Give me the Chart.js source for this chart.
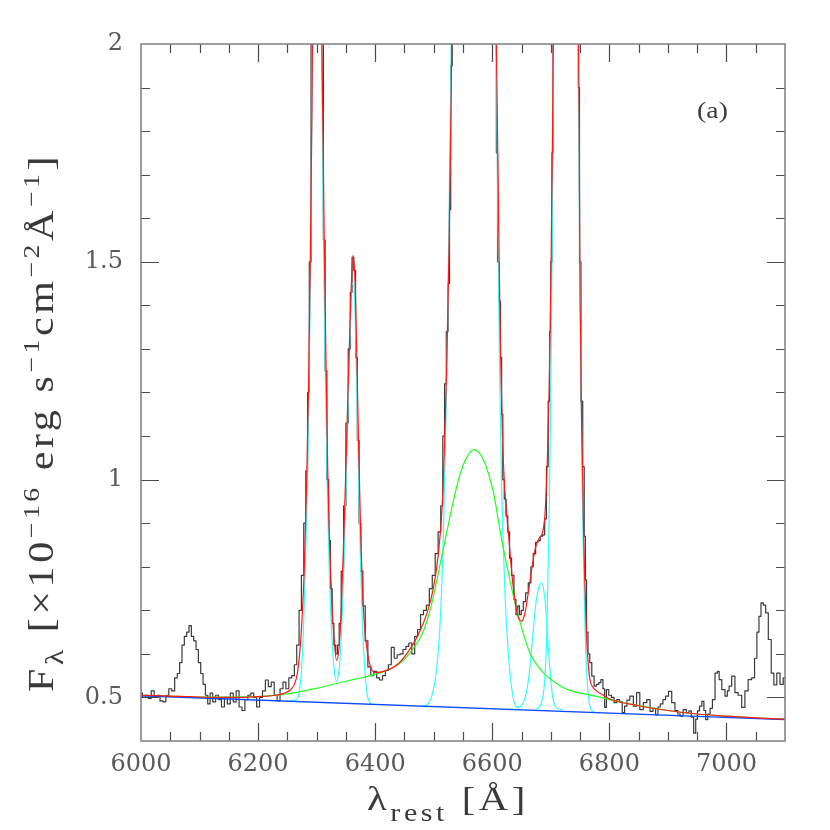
<!DOCTYPE html>
<html><head><meta charset="utf-8">
<script src="https://cdn.jsdelivr.net/npm/chart.js@4.4.0/dist/chart.umd.min.js"></script>
<style>html,body{margin:0;padding:0;background:#fff}#wrap{width:830px;height:830px}</style>
</head><body><div id="wrap"><canvas id="c" width="830" height="830"></canvas></div>
<script>
// ---------- DATA ----------
const obsWave = [6000,6005,6010,6015,6020,6025,6030,6035,6040,6045,6050,6055,6060,6064,6068,6072,6076,6080,6084,6088,6092,6096,6100,6104,6108,6112,6116,6120,6125,6130,6135,6140,6145,6150,6155,6160,6165,6170,6175,6180,6185,6190,6195,6200,6205,6210,6215,6220,6225,6230,6235,6240,6245,6250,6255,6260,6264,6268,6272,6276,6280,6283,6286,6289,6292,6300,6310,6313,6316,6319,6322,6325,6328,6331,6334,6337,6340,6344,6348,6352,6356,6359,6362,6365,6368,6371,6374,6377,6381,6385,6390,6395,6400,6405,6410,6415,6420,6425,6430,6435,6440,6445,6450,6455,6460,6465,6470,6475,6480,6485,6490,6495,6500,6505,6510,6514,6517,6520,6523,6526,6528,6530,6533,6570,6606,6608,6610,6613,6615,6617,6619,6622,6625,6628,6631,6635,6639,6642,6645,6648,6651,6655,6659,6664,6668,6672,6676,6680,6684,6688,6691,6694,6697,6699,6701,6703,6705,6725,6746,6748,6750,6753,6756,6758,6760,6762,6765,6768,6772,6776,6780,6784,6787,6791,6793,6797,6801,6806,6810,6815,6820,6824,6828,6832,6838,6844,6849,6855,6861,6867,6872,6877,6881,6885,6889,6894,6898,6904,6909,6915,6919,6923,6929,6934,6938,6942,6946,6949,6952,6956,6960,6963,6966,6970,6974,6978,6983,6986,6989,6995,7000,7003,7006,7012,7017,7023,7029,7034,7040,7046,7050,7054,7057,7061,7065,7069,7074,7079,7083,7089,7094,7100];
const obsFlux = [0.510,0.500,0.505,0.498,0.515,0.500,0.505,0.492,0.490,0.505,0.520,0.515,0.545,0.555,0.580,0.620,0.640,0.650,0.665,0.640,0.630,0.610,0.580,0.555,0.530,0.505,0.485,0.510,0.490,0.505,0.495,0.478,0.500,0.485,0.510,0.490,0.515,0.478,0.470,0.495,0.505,0.510,0.500,0.478,0.500,0.515,0.540,0.525,0.535,0.505,0.492,0.520,0.535,0.520,0.545,0.550,0.575,0.620,0.700,0.780,0.900,1.020,1.200,1.500,2.100,3.300,2.100,1.550,1.250,1.000,0.860,0.750,0.670,0.620,0.600,0.620,0.670,0.790,0.940,1.130,1.300,1.430,1.510,1.480,1.280,1.090,0.900,0.790,0.710,0.630,0.570,0.550,0.560,0.545,0.540,0.550,0.562,0.575,0.615,0.590,0.598,0.600,0.610,0.617,0.625,0.600,0.640,0.656,0.690,0.700,0.712,0.750,0.780,0.830,0.880,0.940,1.100,1.220,1.340,1.450,1.620,1.950,2.400,3.600,2.300,1.750,1.500,1.410,1.280,1.150,1.000,0.955,0.917,0.880,0.820,0.780,0.725,0.690,0.710,0.690,0.700,0.720,0.740,0.763,0.800,0.830,0.856,0.860,0.870,0.873,0.910,1.030,1.180,1.340,1.500,1.750,2.200,3.400,2.300,1.900,1.500,1.180,1.030,0.870,0.770,0.650,0.600,0.580,0.549,0.526,0.530,0.534,0.541,0.520,0.477,0.518,0.505,0.500,0.488,0.495,0.490,0.465,0.480,0.494,0.503,0.480,0.511,0.472,0.488,0.495,0.468,0.475,0.460,0.478,0.485,0.495,0.503,0.514,0.488,0.470,0.462,0.457,0.472,0.465,0.469,0.455,0.418,0.450,0.469,0.480,0.491,0.470,0.449,0.462,0.475,0.495,0.556,0.560,0.541,0.518,0.503,0.515,0.526,0.549,0.511,0.505,0.477,0.515,0.541,0.545,0.590,0.650,0.686,0.717,0.712,0.694,0.633,0.556,0.529,0.556,0.530,0.545];

const fitWave = [6000,6050,6100,6150,6200,6230,6245,6255,6262,6267,6271,6275,6279,6283,6286,6289,6292,6295,6300,6305,6309,6313,6316,6319,6322,6326,6330,6334,6338,6342,6346,6350,6354,6358,6362,6366,6369,6372,6375,6378,6382,6386,6390,6395,6400,6420,6440,6460,6475,6490,6500,6508,6514,6518,6522,6526,6530,6534,6570,6603,6607,6611,6614,6617,6620,6624,6628,6633,6638,6643,6650,6656,6662,6668,6674,6680,6686,6690,6694,6697,6700,6703,6706,6725,6745,6748,6750,6753,6756,6758,6761,6764,6767,6771,6778,6790,6800,6850,6900,6950,7000,7050,7100];
const fitFlux = [0.505,0.503,0.501,0.500,0.502,0.505,0.510,0.517,0.530,0.555,0.600,0.680,0.800,1.000,1.200,1.480,1.850,2.400,3.200,2.600,2.000,1.550,1.270,1.020,0.860,0.720,0.630,0.585,0.610,0.700,0.850,1.030,1.220,1.400,1.515,1.440,1.260,1.060,0.890,0.760,0.660,0.610,0.580,0.562,0.557,0.562,0.578,0.612,0.648,0.700,0.755,0.830,0.930,1.060,1.250,1.520,1.900,2.400,3.500,2.500,2.000,1.580,1.300,1.120,1.010,0.930,0.870,0.790,0.730,0.690,0.675,0.695,0.745,0.800,0.845,0.865,0.880,0.920,1.040,1.200,1.450,1.800,2.300,3.300,2.400,1.900,1.420,1.100,0.880,0.770,0.640,0.575,0.540,0.525,0.515,0.505,0.497,0.481,0.470,0.462,0.457,0.453,0.450];

const broadWave = [6000,6100,6200,6250,6300,6334,6370,6400,6420,6440,6460,6470,6480,6490,6500,6510,6522,6535,6545,6556,6569,6585,6602,6616,6630,6644,6664,6680,6693,6710,6727,6750,6780,6800,6850,6900,6950,7000,7050,7100];
const broadFlux = [0.505,0.501,0.502,0.508,0.521,0.532,0.543,0.553,0.562,0.576,0.603,0.622,0.645,0.683,0.735,0.800,0.878,0.960,1.012,1.050,1.069,1.045,0.970,0.863,0.770,0.690,0.603,0.568,0.549,0.532,0.519,0.510,0.502,0.495,0.481,0.470,0.462,0.457,0.453,0.450];

const contWave = [6000,7100];
const contFlux = [0.504,0.449];

const oiWave = [6255,6265,6270,6275,6279,6283,6286,6289,6292,6295,6300,6305,6309,6313,6316,6319,6322,6326,6330,6334,6338,6341,6345,6349,6353,6357,6361,6364,6366,6369,6372,6375,6378,6382,6386,6390,6395];
const oiFlux = [0.492,0.495,0.510,0.580,0.720,0.920,1.120,1.420,1.850,2.350,3.000,2.400,1.900,1.420,1.150,0.930,0.770,0.640,0.565,0.537,0.560,0.610,0.740,0.920,1.130,1.330,1.450,1.440,1.370,1.180,0.980,0.810,0.680,0.570,0.510,0.490,0.484];

const haWave = [6480,6490,6497,6503,6508,6512,6516,6520,6524,6528,6532,6570,6604,6607,6610,6613,6616,6619,6622,6626,6630,6635,6640,6645];
const haFlux = [0.478,0.485,0.505,0.545,0.610,0.700,0.850,1.080,1.380,1.800,2.200,3.400,2.300,1.950,1.550,1.200,0.980,0.840,0.730,0.630,0.560,0.505,0.480,0.476];

const heWave = [6640,6650,6658,6664,6669,6674,6679,6684,6690,6696,6700,6704,6710,6720];
const heFlux = [0.477,0.482,0.510,0.565,0.640,0.710,0.750,0.763,0.725,0.610,0.540,0.495,0.476,0.472];

const siiWave = [6675,6683,6689,6693,6697,6700,6703,6706,6725,6744,6747,6750,6753,6756,6759,6763,6768,6775];
const siiFlux = [0.472,0.485,0.530,0.640,0.900,1.200,1.650,2.200,3.200,2.300,1.900,1.450,1.050,0.800,0.630,0.520,0.475,0.466];

const xTickValues = [6000,6200,6400,6600,6800,7000];
const xTickLabels = ['6000','6200','6400','6600','6800','7000'];
const yTickValues = [0.5,1,1.5,2];
const yTickLabels = ['0.5','1','1.5','2'];
const xMinorStep = 50;
const yMinorStep = 0.1;
const panelLabel = '(a)';
const xTitleParts = [{t:'λ',s:34,dy:0},{t:'rest',s:25,dy:11},{t:' [Å]',s:34,dy:0}];
const yTitleParts = [{t:'F',s:35,dy:0},{t:'λ',s:26,dy:10},{t:' [×10',s:35,dy:0},{t:'−16',s:23,dy:-14},{t:' erg s',s:35,dy:0},{t:'−1',s:23,dy:-14},{t:'cm',s:35,dy:0},{t:'−2',s:23,dy:-14},{t:'Å',s:35,dy:0},{t:'−1',s:23,dy:-14},{t:']',s:35,dy:0}];

// ---------- helpers ----------
function pts(w,f){return w.map((x,i)=>({x:x,y:f[i]}));}
const TITLE_FONT = 'Liberation Serif';
const hasLS = ('letterSpacing' in CanvasRenderingContext2D.prototype);
function drawParts(ctx, parts, targetW, sx){
  if (hasLS) ctx.letterSpacing='0px';
  let w=0, n=0;
  parts.forEach(p=>{ctx.font=p.s+'px "'+TITLE_FONT+'"'; w+=ctx.measureText(p.t).width; n+=[...p.t].length;});
  let s = sx;
  let sp = (targetW/s - w)/n;
  if (!hasLS || sp < 0) { s = targetW/w; sp = 0; }
  ctx.scale(s,1);
  let cx=0;
  parts.forEach(p=>{
    ctx.font=p.s+'px "'+TITLE_FONT+'"';
    if (hasLS) ctx.letterSpacing='0px';
    const mw = ctx.measureText(p.t).width;
    if (hasLS) ctx.letterSpacing=sp+'px';
    ctx.fillText(p.t,cx,p.dy);
    cx += mw + sp*[...p.t].length;
  });
  if (hasLS) ctx.letterSpacing='0px';
}

const decor = {
  id:'decor',
  afterDatasetsDraw(chart){
    const {ctx, chartArea:a, scales:{x,y}} = chart;
    ctx.save();
    ctx.strokeStyle='#4a4a4a'; ctx.lineWidth=1.2;
    ctx.beginPath();
    const nx = Math.round((x.max-x.min)/xMinorStep);
    for(let k=1;k<nx;k++){
      const v = x.min + k*xMinorStep;
      const px = Math.round(x.getPixelForValue(v))+0.5;
      const L = xTickValues.includes(v)?18:9;
      ctx.moveTo(px,a.bottom); ctx.lineTo(px,a.bottom-L);
      ctx.moveTo(px,a.top); ctx.lineTo(px,a.top+L);
    }
    const k0 = Math.round(y.min/yMinorStep), k1 = Math.round(y.max/yMinorStep);
    for(let k=k0+1;k<k1;k++){
      const v = k*yMinorStep;
      const py = Math.round(y.getPixelForValue(v))+0.5;
      const L = (k%5===0)?18:9;
      ctx.moveTo(a.left,py); ctx.lineTo(a.left+L,py);
      ctx.moveTo(a.right,py); ctx.lineTo(a.right-L,py);
    }
    ctx.stroke();
    ctx.strokeStyle='#858585'; ctx.lineWidth=1.6;
    ctx.strokeRect(a.left,a.top,a.right-a.left,a.bottom-a.top);
    ctx.restore();
  },
  afterDraw(chart){
    const {ctx} = chart;
    ctx.save();
    ctx.fillStyle='#3a3a3a'; ctx.textBaseline='alphabetic'; ctx.textAlign='left';
    ctx.save(); ctx.translate(367,810); drawParts(ctx,xTitleParts,162,1.2); ctx.restore();
    ctx.save(); ctx.translate(53,692); ctx.rotate(-Math.PI/2); drawParts(ctx,yTitleParts,539,1.2); ctx.restore();
    ctx.save(); ctx.translate(697,118); drawParts(ctx,[{t:panelLabel,s:24,dy:0}],31,1.15); ctx.restore();
    ctx.restore();
  }
};

const base = {pointRadius:0, pointHoverRadius:0, fill:false, borderJoinStyle:'round'};
new Chart(document.getElementById('c').getContext('2d'), {
  type:'line',
  data:{datasets:[
    Object.assign({label:'Total fit', data:pts(fitWave,fitFlux), borderColor:'#ff1a1a', borderWidth:1.2, cubicInterpolationMode:'monotone', order:1}, base),
    Object.assign({label:'Continuum', data:pts(contWave,contFlux), borderColor:'#0a4cff', borderWidth:1.4, order:2}, base),
    Object.assign({label:'Broad H alpha', data:pts(broadWave,broadFlux), borderColor:'#22ff22', borderWidth:1.2, cubicInterpolationMode:'monotone', order:3}, base),
    Object.assign({label:'[OI]', data:pts(oiWave,oiFlux), borderColor:'#33ffff', borderWidth:1.2, cubicInterpolationMode:'monotone', order:4}, base),
    Object.assign({label:'Narrow H alpha + [NII]', data:pts(haWave,haFlux), borderColor:'#33ffff', borderWidth:1.2, cubicInterpolationMode:'monotone', order:4}, base),
    Object.assign({label:'HeI', data:pts(heWave,heFlux), borderColor:'#33ffff', borderWidth:1.2, cubicInterpolationMode:'monotone', order:4}, base),
    Object.assign({label:'[SII]', data:pts(siiWave,siiFlux), borderColor:'#33ffff', borderWidth:1.2, cubicInterpolationMode:'monotone', order:4}, base),
    Object.assign({label:'Observed', data:pts(obsWave,obsFlux), borderColor:'#3a3a3a', borderWidth:1.2, stepped:'middle', order:5}, base)
  ]},
  options:{
    responsive:false, animation:false, devicePixelRatio:1,
    layout:{padding:{top:44,right:45,left:0,bottom:0}},
    plugins:{legend:{display:false}, tooltip:{enabled:false}},
    scales:{
      x:{type:'linear', min:6000, max:7100,
         grid:{display:false, drawTicks:false}, border:{display:false},
         afterBuildTicks:(s)=>{s.ticks = xTickValues.map(v=>({value:v}));},
         afterFit:(s)=>{s.height=89;},
         ticks:{autoSkip:false, maxRotation:0, minRotation:0, padding:9, color:'#595959',
                font:{family:'DejaVu Serif', size:24},
                callback:(v,i)=>xTickLabels[i]}},
      y:{type:'linear', min:0.4, max:2,
         grid:{display:false, drawTicks:false}, border:{display:false},
         afterBuildTicks:(s)=>{s.ticks = yTickValues.map(v=>({value:v}));},
         afterFit:(s)=>{s.width=141;},
         ticks:{padding:18, color:'#595959', font:{family:'DejaVu Serif', size:24},
                callback:(v,i)=>yTickLabels[i]}}
    }
  },
  plugins:[decor]
});
</script>
</body></html>
